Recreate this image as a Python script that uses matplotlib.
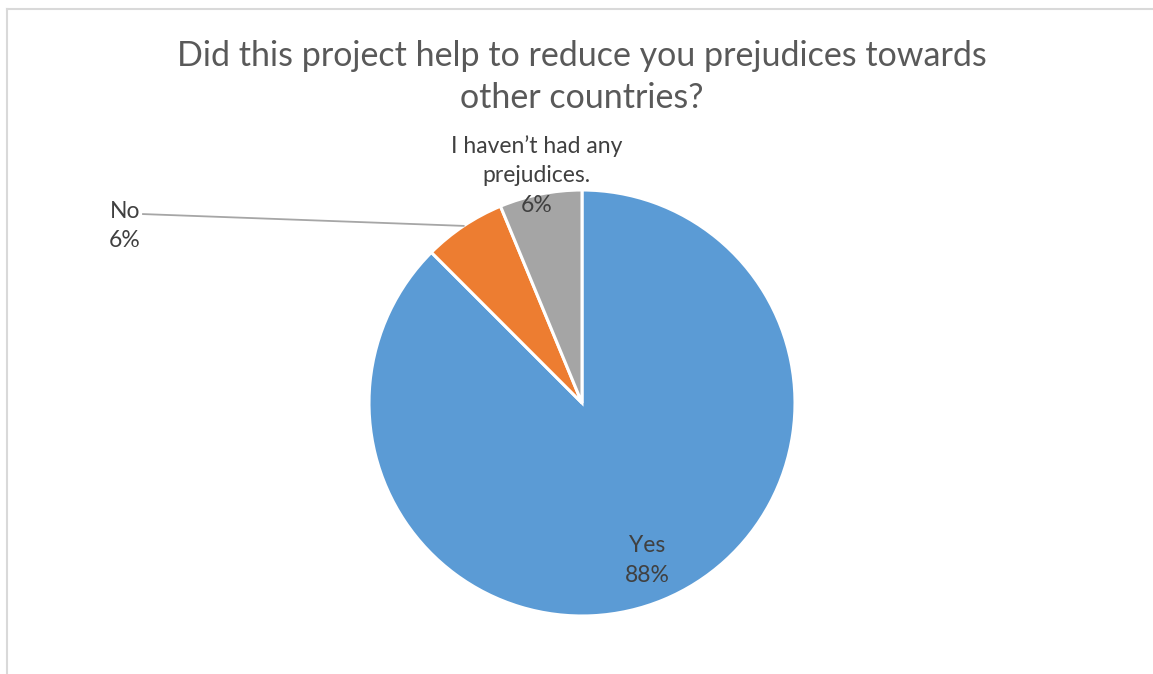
import numpy as np
import matplotlib
matplotlib.use("Agg")
import matplotlib.pyplot as plt
from matplotlib.lines import Line2D

labels = ["Yes", "No", "I haven\u2019t had any\nprejudices."]
counts = [14, 1, 1]
colors = ["#5B9BD5", "#ED7D31", "#A5A5A5"]
title = "Did this project help to reduce you prejudices towards\nother countries?"

W, H = 1153, 674
plt.rcParams['font.family'] = ['Lato', 'DejaVu Sans']

fig = plt.figure(figsize=(W / 100, H / 100), dpi=100)

# chart border (only left and top edges are visible in the crop)
fig.add_artist(Line2D([6.5 / W, 6.5 / W], [0, 1 - 8.5 / H], color="#d9d9d9", lw=1.5))
fig.add_artist(Line2D([6.5 / W, 1], [1 - 8.5 / H, 1 - 8.5 / H], color="#d9d9d9", lw=1.5))

cx, cy, r = 582, 403, 213
ax = fig.add_axes([(cx - r) / W, (H - cy - r) / H, 2 * r / W, 2 * r / H])
wedges, _ = ax.pie(counts, colors=colors, startangle=90, counterclock=False,
                   wedgeprops=dict(edgecolor="white", linewidth=2.2))
ax.set_xlim(-1, 1)
ax.set_ylim(-1, 1)
ax.set_aspect("equal")
ax.axis("off")

total = sum(counts)
pct = [f"{round(c / total * 100)}%" for c in counts]
txt = dict(color="#404040", fontsize=16.5, linespacing=1.5)

def mid(w):
    a = np.deg2rad((w.theta1 + w.theta2) / 2)
    return np.cos(a), np.sin(a)

# Yes – inside
mx, my = mid(wedges[0])
ax.text(mx * 0.8, my * 0.8, f"{labels[0]}\n{pct[0]}", ha="center", va="center", **txt)

# gray – just outside
mx, my = mid(wedges[2])
ax.text(mx * 1.09, my * 1.09, f"{labels[2]}\n{pct[2]}", ha="center", va="center", **txt)

# No – far left with leader line
mx, my = mid(wedges[1])
lx, ly = -2.146, 0.831
ax.text(lx, ly, f"{labels[1]}\n{pct[1]}", ha="center", va="center", **txt)
ax.plot([lx + 0.085, mx], [ly + 0.056, my], color="#a6a6a6", lw=1.3, clip_on=False)

fig.text(cx / W, 1 - 77 / H, title, ha="center", va="center", color="#595959",
         fontsize=24.5, linespacing=1.42)

fig.savefig("out.png", dpi=100)
